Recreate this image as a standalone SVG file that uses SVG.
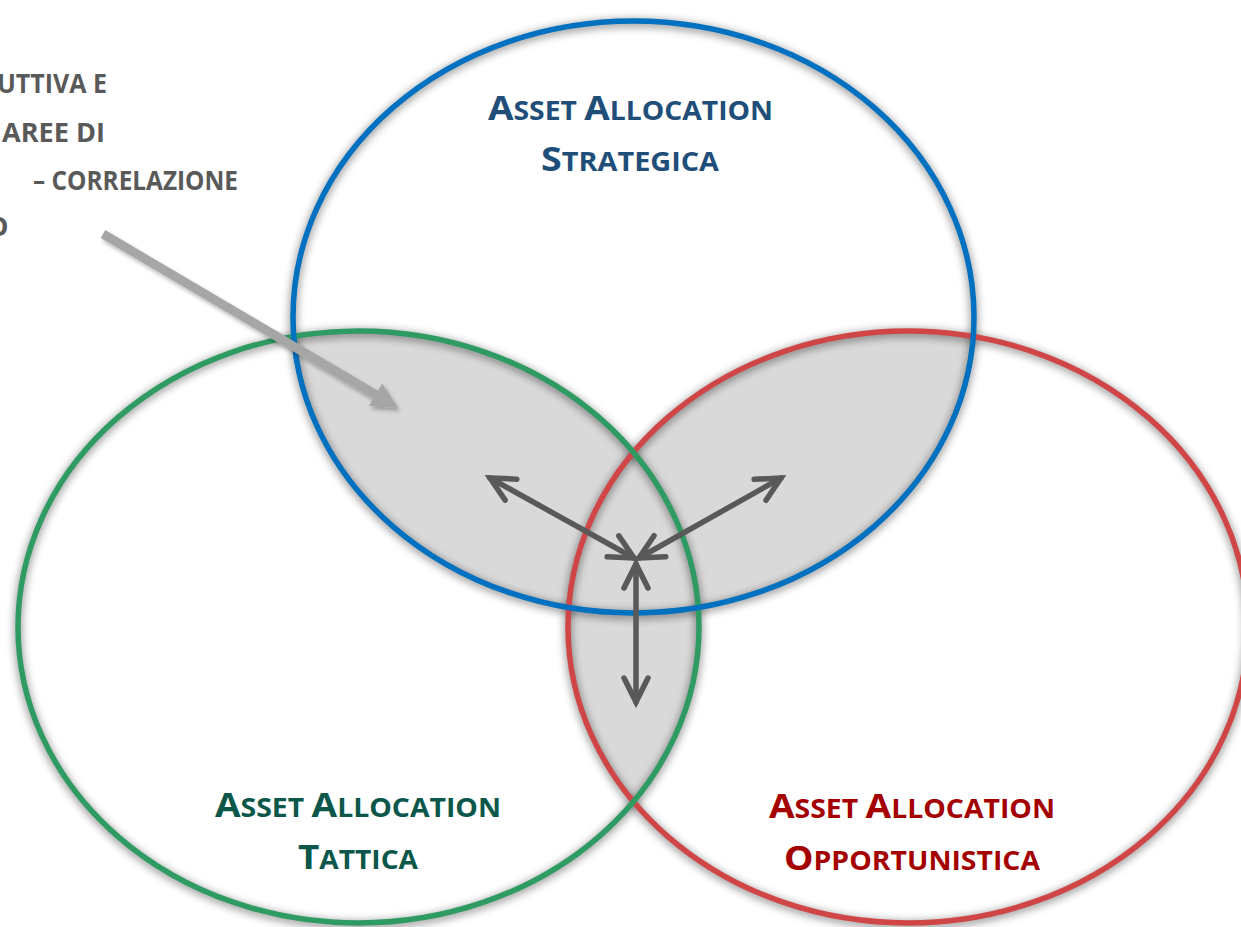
<svg xmlns="http://www.w3.org/2000/svg" width="1241" height="927" viewBox="0 0 1241 927">
<style>
.title{font-family:"Open Sans","Liberation Sans",sans-serif;font-weight:700}
.big{font-size:34px}
.sm{font-size:26px}
.note{font-family:"Open Sans","Liberation Sans",sans-serif;font-weight:700;font-size:27px;fill:#595959}
.ring{fill:none;stroke-width:5.5}
.shadow{fill:none;stroke:#000;stroke-width:7;stroke-opacity:0.45}
.dark{stroke:#595959;stroke-width:5.5;fill:none;stroke-linecap:round}
</style>
<defs>
<clipPath id="cBlue"><ellipse cx="633.5" cy="317" rx="340.5" ry="296"/></clipPath>
<clipPath id="cGreen"><ellipse cx="358.5" cy="627" rx="340.5" ry="296"/></clipPath>
<clipPath id="cRed"><ellipse cx="908" cy="627" rx="340" ry="296"/></clipPath>
<filter id="blur" x="-10%" y="-10%" width="120%" height="120%"><feGaussianBlur stdDeviation="4"/></filter>
<filter id="ashadow" x="-10%" y="-20%" width="120%" height="140%"><feGaussianBlur in="SourceAlpha" stdDeviation="2"/><feOffset dx="2" dy="3"/><feComponentTransfer><feFuncA type="linear" slope="0.3"/></feComponentTransfer><feMerge><feMergeNode/><feMergeNode in="SourceGraphic"/></feMerge></filter>
<marker id="chev" markerUnits="userSpaceOnUse" orient="auto-start-reverse" refX="0" refY="0" markerWidth="40" markerHeight="40" overflow="visible">
<path d="M -24,-12 L 0,0 L -24,12" fill="none" stroke="#595959" stroke-width="5.5" stroke-linecap="round" stroke-linejoin="miter"/>
</marker>
</defs>
<rect width="1241" height="927" fill="#fff"/>
<g id="overlaps" fill="#D9D9D9">
<g clip-path="url(#cBlue)"><ellipse cx="358.5" cy="627" rx="340.5" ry="296"/><ellipse cx="908" cy="627" rx="340" ry="296"/></g>
<g clip-path="url(#cGreen)"><ellipse cx="908" cy="627" rx="340" ry="296"/></g>
</g>
<g id="shadows" filter="url(#blur)">
<ellipse class="shadow" cx="633.5" cy="319" rx="340.5" ry="296"/>
<ellipse class="shadow" cx="358.5" cy="629" rx="340.5" ry="296"/>
<ellipse class="shadow" cx="908" cy="629" rx="340" ry="296"/>
</g>
<g id="node-opportunistica">
<ellipse class="ring" cx="908" cy="627" rx="340" ry="296" stroke="#D04646"/>
<text class="title" fill="#A40000" x="769" y="818" textLength="286" lengthAdjust="spacingAndGlyphs"><tspan class="big">A</tspan><tspan class="sm">SSET </tspan><tspan class="big">A</tspan><tspan class="sm">LLOCATION</tspan></text>
<text class="title" fill="#A40000" x="784" y="870" textLength="256" lengthAdjust="spacingAndGlyphs"><tspan class="big">O</tspan><tspan class="sm">PPORTUNISTICA</tspan></text>
</g>
<g id="node-tattica">
<ellipse class="ring" cx="358.5" cy="627" rx="340.5" ry="296" stroke="#2E9B63"/>
<text class="title" fill="#0B574A" x="215" y="817" textLength="286" lengthAdjust="spacingAndGlyphs"><tspan class="big">A</tspan><tspan class="sm">SSET </tspan><tspan class="big">A</tspan><tspan class="sm">LLOCATION</tspan></text>
<text class="title" fill="#0B574A" x="298" y="869" textLength="120" lengthAdjust="spacingAndGlyphs"><tspan class="big">T</tspan><tspan class="sm">ATTICA</tspan></text>
</g>
<g id="node-strategica">
<ellipse class="ring" cx="633.5" cy="317" rx="340.5" ry="296" stroke="#0070C0"/>
<text class="title" fill="#1F4E79" x="488" y="120" textLength="285" lengthAdjust="spacingAndGlyphs"><tspan class="big">A</tspan><tspan class="sm">SSET </tspan><tspan class="big">A</tspan><tspan class="sm">LLOCATION</tspan></text>
<text class="title" fill="#1F4E79" x="541" y="171" textLength="178" lengthAdjust="spacingAndGlyphs"><tspan class="big">S</tspan><tspan class="sm">TRATEGICA</tspan></text>
</g>
<g id="note">
<text class="note" x="-3" y="93" textLength="110" lengthAdjust="spacingAndGlyphs">UTTIVA E</text>
<text class="note" x="2" y="142" textLength="103" lengthAdjust="spacingAndGlyphs">AREE DI</text>
<text class="note" x="33" y="190" textLength="205" lengthAdjust="spacingAndGlyphs">– CORRELAZIONE</text>
<text class="note" x="-13" y="236">O</text>
</g>
<g id="connectors">
<g filter="url(#ashadow)">
<line x1="103" y1="234" x2="377" y2="395.5" stroke="#A6A6A6" stroke-width="9"/>
<polygon points="398,408 369,406 382.2,383.6" fill="#A6A6A6"/>
</g>
<line class="dark" x1="490" y1="478" x2="634" y2="558" marker-start="url(#chev)" marker-end="url(#chev)"/>
<line class="dark" x1="639" y1="558" x2="781" y2="478" marker-start="url(#chev)" marker-end="url(#chev)"/>
<line class="dark" x1="636" y1="564" x2="636" y2="702" marker-start="url(#chev)" marker-end="url(#chev)"/>
</g>
</svg>
